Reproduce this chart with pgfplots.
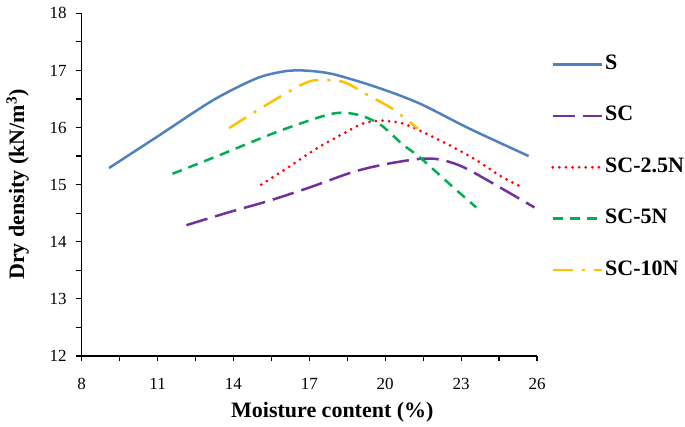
\documentclass[border=0pt]{standalone}
\usepackage{fontspec}
\setmainfont{Liberation Serif}
\usepackage{pgfplots}
\pgfplotsset{compat=1.18}
\definecolor{cS}{HTML}{4F81BD}
\definecolor{cSC}{HTML}{7030A0}
\definecolor{cSCa}{HTML}{FF0000}
\definecolor{cSCb}{HTML}{00B050}
\definecolor{cSCc}{HTML}{FFC000}

\begin{document}
\begin{tikzpicture}
% fixed page: axis box sits at (0,0)-(455.3pt,342.6pt)
\useasboundingbox (-81.7pt,-70.1pt) rectangle (603.3pt,355.9pt);
\begin{axis}[
  scale only axis,
  width=455.3pt, height=342.6pt,
  xmin=8, xmax=26, ymin=12, ymax=18,
  axis x line*=bottom, axis y line*=left,
  axis line style={line width=1.3pt, black},
  xtick={8,9.5,...,26},
  xticklabels={8,,11,,14,,17,,20,,23,,26},
  ytick={12,12.5,...,18},
  yticklabels={12,,13,,14,,15,,16,,17,,18},
  tick align=outside,
  major tick length=5.5pt,
  tick style={black, line width=1.2pt},
  ticklabel style={font=\fontsize{17}{20}\selectfont},
  xticklabel style={yshift=-13pt},
  yticklabel style={xshift=-6pt},
  xlabel={Moisture content (\%)},
  ylabel={Dry density (kN/m\textsuperscript{3})},
  xlabel style={at={([xshift=23pt,yshift=-56pt]axis description cs:0.5,0)}, anchor=center,
    font=\fontsize{22}{26}\selectfont\bfseries},
  ylabel style={at={([xshift=-64pt]axis description cs:0,0.5)}, anchor=center,
    font=\fontsize{22}{26}\selectfont\bfseries},
  legend cell align=left,
  legend style={at={(rel axis cs:1,1)}, anchor=north west, xshift=14pt, yshift=-39pt,
    draw=none, fill=none, inner sep=0pt, font=\fontsize{22}{26}\selectfont\bfseries,
    nodes={inner sep=2pt, text height=15pt, text depth=5pt},
    row sep=27.4pt, column sep=0pt},
  legend image code/.code={\draw[#1] (0pt,0pt) -- (49pt,0pt);},
]
\addplot[cS, line width=2.5pt, smooth, tension=0.5] coordinates {
  (9.08,15.29) (11.09,15.87) (13.2,16.48) (14.91,16.86) (15.96,16.98) (16.6,17.0)
  (17.3,16.98) (18.07,16.92) (19.7,16.7) (21.36,16.42) (23.33,15.98) (25.67,15.5)
};
\addlegendentry{S}
\addplot[cSC, line width=2.5pt, dash pattern=on 22pt off 8pt, smooth, tension=0.5] coordinates {
  (12.14,14.29) (13.85,14.52) (15.43,14.72) (17.01,14.95) (18.72,15.22) (20.04,15.36)
  (21.36,15.45) (22.15,15.44) (23.07,15.31) (24.38,14.99) (25.9,14.6)
};
\addlegendentry{SC}
\addplot[cSCa, line width=3pt, line cap=round, dash pattern=on 0pt off 6.6pt, smooth, tension=0.5] coordinates {
  (15.1,15.0) (16.09,15.28) (17.28,15.63) (18.33,15.89) (19.12,16.07) (19.84,16.12)
  (20.7,16.07) (21.49,15.92) (22.54,15.69) (23.59,15.43) (24.64,15.13) (25.43,14.95)
};
\addlegendentry{SC-2.5N}
\addplot[cSCb, line width=2.5pt, dash pattern=on 10pt off 7pt, smooth, tension=0.5] coordinates {
  (11.59,15.19) (13.59,15.54) (15.7,15.92) (17.54,16.2) (18.33,16.26) (19.1,16.2)
  (19.84,16.04) (20.7,15.7) (21.36,15.48) (22.67,14.96) (23.6,14.6)
};
\addlegendentry{SC-5N}
\addplot[cSCc, line width=2.5pt, dash pattern=on 20pt off 9pt on 3pt off 9pt, smooth, tension=0.5] coordinates {
  (13.83,15.99) (14.91,16.29) (15.96,16.57) (16.75,16.76) (17.28,16.83) (18.33,16.8)
  (19.38,16.55) (20.17,16.36) (20.7,16.19) (21.29,15.98)
};
\addlegendentry{SC-10N}
\end{axis}
\end{tikzpicture}
\end{document}
